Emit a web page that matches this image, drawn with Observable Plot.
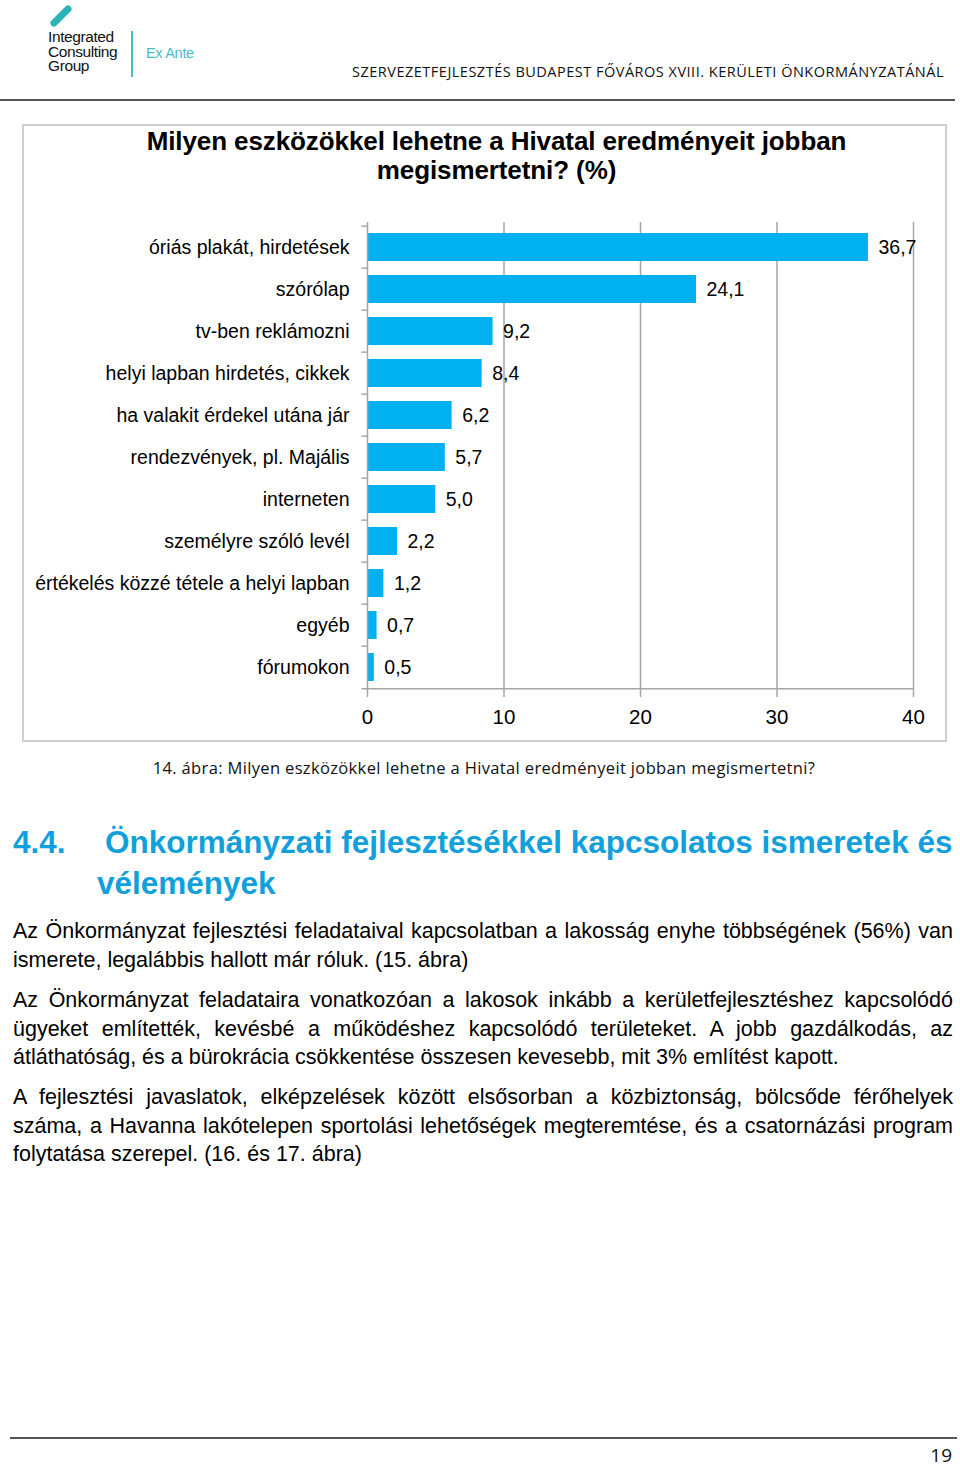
<!DOCTYPE html>
<html>
<head>
<meta charset="utf-8">
<script src="https://cdn.jsdelivr.net/npm/d3@7"></script>
<script src="https://cdn.jsdelivr.net/npm/@observablehq/plot@0.6"></script>
<style>
  html, body { margin: 0; padding: 0; background: #fff; }
  body { width: 960px; height: 1466px; position: relative; overflow: hidden; font-family: "Liberation Sans", Arial, sans-serif; color: #000; }
  .abs { position: absolute; }
  #logoSlash { left: 48px; top: 4px; width: 26px; height: 24px; }
  #logoText { left: 48px; top: 30px; font-size: 15.5px; line-height: 14.5px; color: #111; letter-spacing: -0.4px; }
  #logoBar { left: 131px; top: 31px; width: 1.5px; height: 46px; background: #4bbcc0; }
  #exante { left: 146px; top: 45px; font-size: 14.5px; color: #4bbcc0; letter-spacing: -0.3px; }
  #hdr { right: 16px; top: 62px; font-family: "Open Sans", sans-serif; font-size: 14.5px; letter-spacing: 0.5px; color: #111; white-space: nowrap; }
  #hdrLine { left: 0; top: 99px; width: 955px; height: 2px; background: #555; }
  #box { left: 22px; top: 124px; width: 921px; height: 614px; border: 2px solid #cfcfcf; }
  #title { left: 22px; top: 127px; width: 949px; text-align: center; font-weight: bold; font-size: 26px; line-height: 29px; letter-spacing: -0.1px; }
  #chart { left: 0; top: 200px; }
  #caption { left: 0; top: 756px; width: 968px; text-align: center; font-family: "Open Sans", sans-serif; font-size: 16.5px; letter-spacing: 0.35px; color: #111; white-space: nowrap; }
  .h { color: #12a0dc; font-weight: bold; font-size: 31.5px; white-space: nowrap; }
  #h1 { left: 13px; top: 824px; }
  #h2 { left: 105px; top: 824px; }
  #h3 { left: 97px; top: 865px; }
  .p { left: 13px; width: 940px; font-size: 21.5px; line-height: 28.5px; }
  .p div { white-space: nowrap; }
  .p div.j { text-align: justify; text-align-last: justify; white-space: normal; }
  #p1 { top: 917px; }
  #p2 { top: 986px; }
  #p3 { top: 1083px; }
  #footLine { left: 10px; top: 1437px; width: 947px; height: 1.5px; background: #555; }
  #pageNo { right: 8px; top: 1442px; font-family: "Open Sans", sans-serif; font-size: 19px; color: #111; }
</style>
</head>
<body>
<svg id="logoSlash" class="abs" viewBox="0 0 26 24"><line x1="6" y1="19" x2="20" y2="5" stroke="#2bb5b8" stroke-width="7" stroke-linecap="round"/></svg>
<div id="logoText" class="abs">Integrated<br>Consulting<br>Group</div>
<div id="logoBar" class="abs"></div>
<div id="exante" class="abs">Ex Ante</div>
<div id="hdr" class="abs">SZERVEZETFEJLESZTÉS BUDAPEST FŐVÁROS XVIII. KERÜLETI ÖNKORMÁNYZATÁNÁL</div>
<div id="hdrLine" class="abs"></div>

<div id="box" class="abs"></div>
<div id="title" class="abs">Milyen eszközökkel lehetne a Hivatal eredményeit jobban<br>megismertetni? (%)</div>
<div id="chart" class="abs"></div>
<div id="caption" class="abs">14. ábra: Milyen eszközökkel lehetne a Hivatal eredményeit jobban megismertetni?</div>

<div id="h1" class="abs h">4.4.</div>
<div id="h2" class="abs h">Önkormányzati fejlesztésékkel kapcsolatos ismeretek és</div>
<div id="h3" class="abs h">vélemények</div>

<div id="p1" class="abs p">
  <div class="j">Az Önkormányzat fejlesztési feladataival kapcsolatban a lakosság enyhe többségének (56%) van</div>
  <div>ismerete, legalábbis hallott már róluk. (15. ábra)</div>
</div>
<div id="p2" class="abs p">
  <div class="j">Az Önkormányzat feladataira vonatkozóan a lakosok inkább a kerületfejlesztéshez kapcsolódó</div>
  <div class="j">ügyeket említették, kevésbé a működéshez kapcsolódó területeket. A jobb gazdálkodás, az</div>
  <div>átláthatóság, és a bürokrácia csökkentése összesen kevesebb, mit 3% említést kapott.</div>
</div>
<div id="p3" class="abs p">
  <div class="j">A fejlesztési javaslatok, elképzelések között elsősorban a közbiztonság, bölcsőde férőhelyek</div>
  <div class="j">száma, a Havanna lakótelepen sportolási lehetőségek megteremtése, és a csatornázási program</div>
  <div>folytatása szerepel. (16. és 17. ábra)</div>
</div>

<div id="footLine" class="abs"></div>
<div id="pageNo" class="abs">19</div>

<script>
const categories = [
  "óriás plakát, hirdetések",
  "szórólap",
  "tv-ben reklámozni",
  "helyi lapban hirdetés, cikkek",
  "ha valakit érdekel utána jár",
  "rendezvények, pl. Majális",
  "interneten",
  "személyre szóló levél",
  "értékelés közzé tétele a helyi lapban",
  "egyéb",
  "fórumokon"
];
const values = [36.7, 24.1, 9.2, 8.4, 6.2, 5.7, 5.0, 2.2, 1.2, 0.7, 0.5];
const xTicks = [0, 10, 20, 30, 40];
const gridTicks = [10, 20, 30, 40];

const data = categories.map((c, i) => ({cat: c, val: values[i]}));
const fmt = v => v.toFixed(1).replace(".", ",");

const W = 960, H = 542, mT = 22, mB = 50, mL = 367, mR = 47;
const step = (H - mT - mB) / categories.length;
const grey = "#a6a6a6";

const chart = Plot.plot({
  width: W, height: H,
  marginTop: mT, marginBottom: mB, marginLeft: mL, marginRight: mR,
  style: {fontFamily: "'Liberation Sans', Arial, sans-serif", background: "transparent", color: "#000"},
  x: {domain: [0, 40]},
  y: {domain: categories, paddingInner: 0, paddingOuter: 0},
  marks: [
    Plot.gridX(gridTicks, {stroke: grey, strokeOpacity: 1, strokeWidth: 1.5}),
    Plot.barX(data, {y: "cat", x: "val", fill: "#00b0f0", insetTop: 7, insetBottom: 7}),
    Plot.ruleX([0], {stroke: grey, strokeWidth: 1.5}),
    Plot.ruleY(categories, {y: d => d, dy: -step / 2, x1: -0.4, x2: 0, stroke: grey, strokeWidth: 1.5}),
    Plot.ruleY([categories[categories.length - 1]], {y: d => d, dy: step / 2, x1: -0.4, x2: 40, stroke: grey, strokeWidth: 1.5}),
    Plot.text(data, {y: "cat", x: "val", text: d => fmt(d.val), dx: 10, textAnchor: "start", fontSize: 19.5, fill: "#000"}),
    Plot.axisX(xTicks, {tickSize: 5, tickPadding: 12, fontSize: 20.5, stroke: grey, strokeWidth: 1.5, tickFormat: d => d, label: null, fill: "#000"}),
    Plot.axisY({tickSize: 0, tickPadding: 18, fontSize: 19.5, label: null, fill: "#000"})
  ]
});
document.getElementById("chart").appendChild(chart);
</script>
</body>
</html>
